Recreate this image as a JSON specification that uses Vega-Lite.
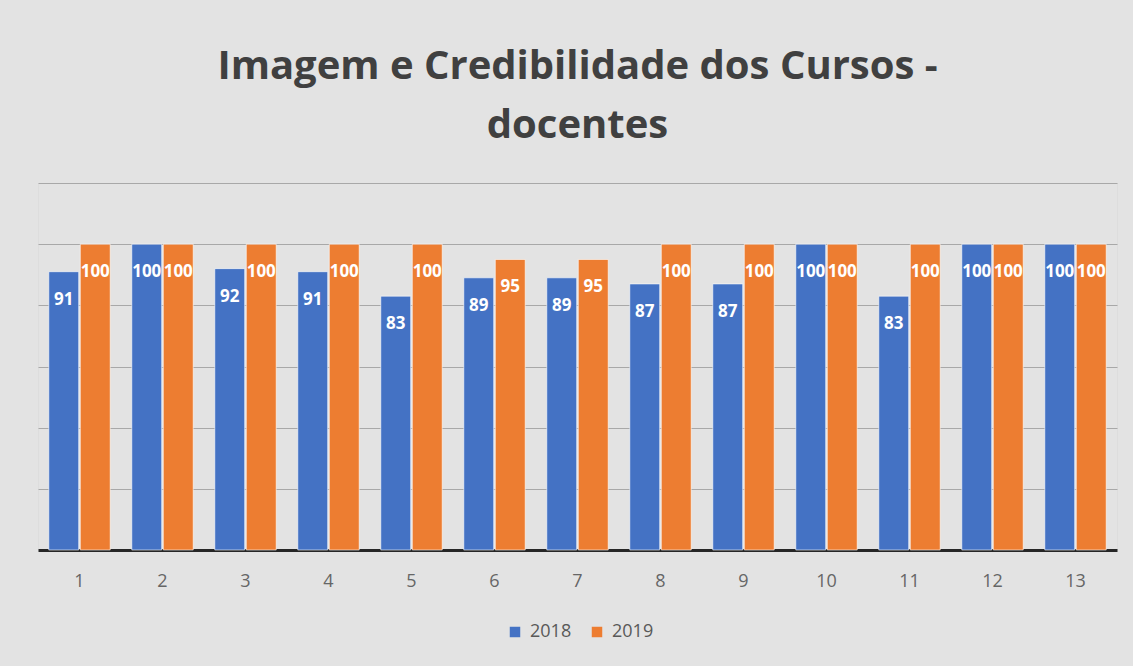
{
  "$schema": "https://vega.github.io/schema/vega-lite/v6.json",
  "width": 1079,
  "height": 367,
  "padding": {"left": 38, "top": 183, "right": 16, "bottom": 116},
  "autosize": {"type": "none"},
  "background": "#e3e3e3",
  "title": {
    "text": ["Imagem e Credibilidade dos Cursos -", "docentes"],
    "font": "Open Sans",
    "fontSize": 40,
    "fontWeight": "bold",
    "color": "#404040",
    "anchor": "middle",
    "frame": "group",
    "lineHeight": 59,
    "offset": 37
  },
  "data": {
    "values": [
      {"curso": "1", "ano": "2018", "valor": 91}, {"curso": "1", "ano": "2019", "valor": 100},
      {"curso": "2", "ano": "2018", "valor": 100}, {"curso": "2", "ano": "2019", "valor": 100},
      {"curso": "3", "ano": "2018", "valor": 92}, {"curso": "3", "ano": "2019", "valor": 100},
      {"curso": "4", "ano": "2018", "valor": 91}, {"curso": "4", "ano": "2019", "valor": 100},
      {"curso": "5", "ano": "2018", "valor": 83}, {"curso": "5", "ano": "2019", "valor": 100},
      {"curso": "6", "ano": "2018", "valor": 89}, {"curso": "6", "ano": "2019", "valor": 95},
      {"curso": "7", "ano": "2018", "valor": 89}, {"curso": "7", "ano": "2019", "valor": 95},
      {"curso": "8", "ano": "2018", "valor": 87}, {"curso": "8", "ano": "2019", "valor": 100},
      {"curso": "9", "ano": "2018", "valor": 87}, {"curso": "9", "ano": "2019", "valor": 100},
      {"curso": "10", "ano": "2018", "valor": 100}, {"curso": "10", "ano": "2019", "valor": 100},
      {"curso": "11", "ano": "2018", "valor": 83}, {"curso": "11", "ano": "2019", "valor": 100},
      {"curso": "12", "ano": "2018", "valor": 100}, {"curso": "12", "ano": "2019", "valor": 100},
      {"curso": "13", "ano": "2018", "valor": 100}, {"curso": "13", "ano": "2019", "valor": 100}
    ]
  },
  "encoding": {
    "x": {
      "field": "curso", "type": "nominal", "sort": null,
      "scale": {"paddingInner": 0.26, "paddingOuter": 0.13},
      "axis": {
        "title": null, "labelAngle": 0, "ticks": false,
        "domainColor": "#262626", "domainWidth": 3,
        "labelFont": "Open Sans", "labelFontSize": 18, "labelColor": "#666666",
        "labelPadding": 22
      }
    },
    "xOffset": {"field": "ano", "type": "nominal", "scale": {"paddingInner": 0.05}},
    "y": {
      "field": "valor", "type": "quantitative",
      "scale": {"domain": [0, 120], "nice": false},
      "axis": {
        "title": null, "labels": false, "ticks": false, "domain": false,
        "grid": true, "gridColor": "#a8a8a8", "gridWidth": 1,
        "values": [20, 40, 60, 80, 100, 120]
      }
    }
  },
  "layer": [
    {
      "mark": {"type": "bar", "stroke": "#ffffff", "strokeWidth": 1, "strokeOpacity": 0.6},
      "encoding": {
        "color": {
          "field": "ano", "type": "nominal",
          "scale": {"domain": ["2018", "2019"], "range": ["#4472C4", "#ED7D31"]},
          "legend": {
            "title": null, "orient": "none", "direction": "horizontal",
            "legendX": 468, "legendY": 440,
            "symbolType": "square", "symbolSize": 110, "symbolStrokeWidth": 0,
            "labelFont": "Open Sans", "labelFontSize": 18, "labelColor": "#595959",
            "columnPadding": 16, "labelOffset": 6
          }
        }
      }
    },
    {
      "mark": {
        "type": "text", "color": "#ffffff", "font": "Open Sans", "fontWeight": "bold",
        "fontSize": 17, "baseline": "middle", "align": "center", "dy": 28
      },
      "encoding": {"text": {"field": "valor", "type": "quantitative"}}
    }
  ]
}
